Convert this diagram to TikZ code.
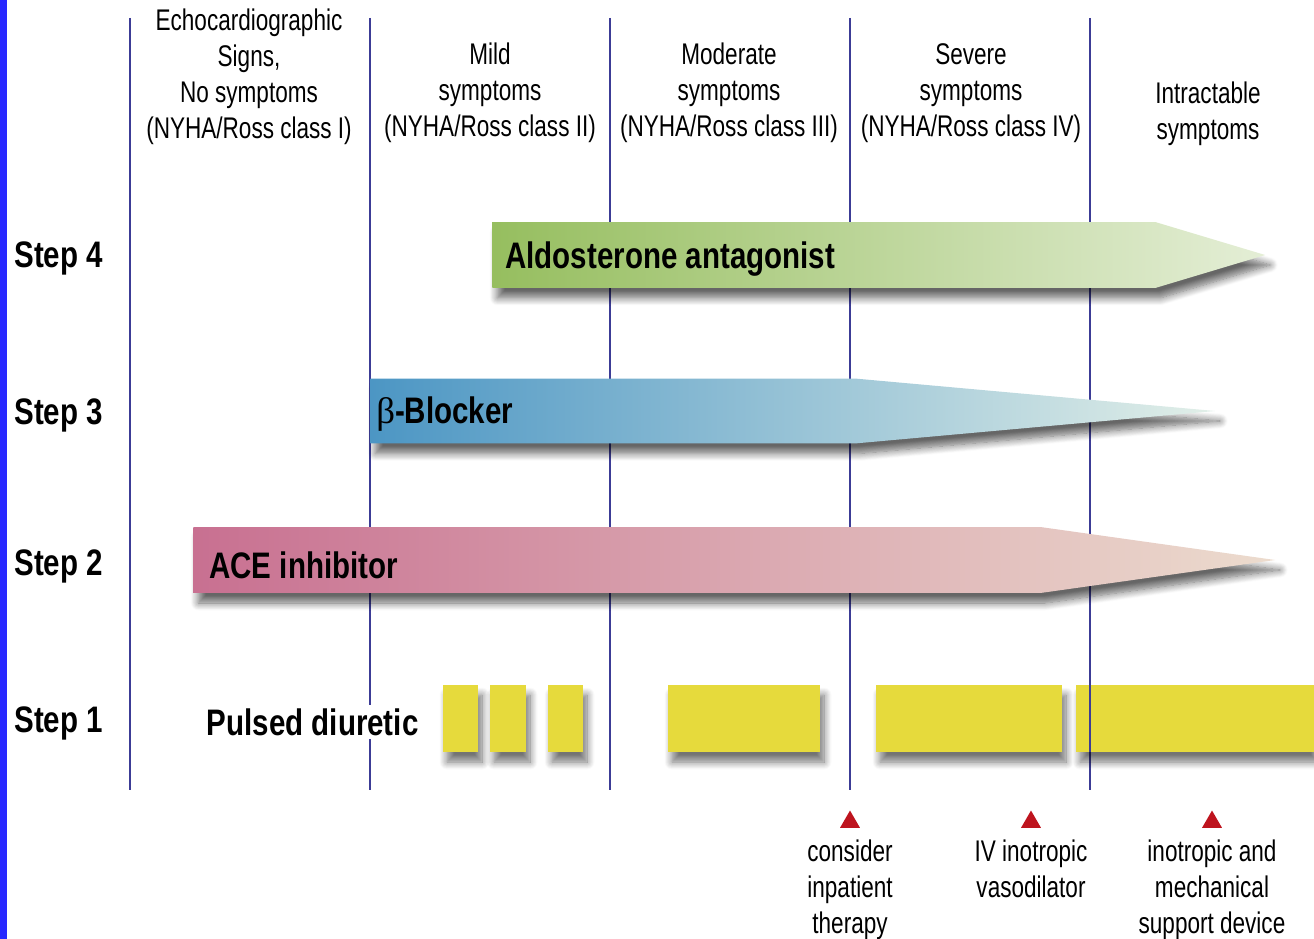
\documentclass[tikz,border=0pt]{standalone}
\usepackage{fontspec}
\setmainfont{Liberation Sans}[FakeStretch=0.8]
\newfontfamily\narrowsans{Liberation Sans}[FakeStretch=0.755]
\newfontfamily\betaserif{Liberation Serif}
\usepackage{tikz}
\usetikzlibrary{positioning,shapes.arrows,shapes.geometric,shadows.blur}
\definecolor{gridnavy}{RGB}{60,60,150}
\definecolor{edgeblue}{RGB}{40,40,255}
\definecolor{aldostart}{RGB}{150,190,95}
\definecolor{aldoend}{RGB}{228,238,214}
\definecolor{betastart}{RGB}{76,150,196}
\definecolor{betaend}{RGB}{226,239,232}
\definecolor{acestart}{RGB}{200,112,145}
\definecolor{aceend}{RGB}{236,220,206}
\definecolor{diuryellow}{RGB}{230,218,60}
\definecolor{alertred}{RGB}{190,20,30}
\tikzset{
  divider/.style ={draw=gridnavy, line width=1.6pt},
  classlbl/.style={align=center, font=\narrowsans\fontsize{17}{20.5}\selectfont, inner sep=0pt},
  steplbl/.style ={font=\fontsize{21}{24}\selectfont\bfseries, inner sep=0pt, anchor=west},
  druglbl/.style ={font=\fontsize{21}{24}\selectfont\bfseries, inner sep=0pt, anchor=west},
  drug/.style    ={single arrow, single arrow head extend=0pt, minimum width=1.32cm,
                   inner sep=0pt, anchor=tail,
                   blur shadow={shadow xshift=0.1cm, shadow yshift=-0.2cm,
                                shadow blur steps=10, shadow blur radius=0.15cm, shadow opacity=60}},
  pulse/.style   ={fill=diuryellow,
                   blur shadow={shadow xshift=0.08cm, shadow yshift=-0.2cm,
                                shadow blur steps=10, shadow blur radius=0.15cm, shadow opacity=55}},
  flag/.style    ={regular polygon, regular polygon sides=3, fill=alertred,
                   minimum size=0.46cm, inner sep=0pt},
}
\begin{document}
\begin{tikzpicture}[x=0.02cm, y=-0.02cm]
\useasboundingbox (0,0) rectangle (1314,939);
\fill[edgeblue] (0,0) rectangle (7,939);

% class dividers
\foreach \x in {130,370,610,850,1090} \draw[divider] (\x,18) -- (\x,790);

% column headers
\node[classlbl] (cls1) at (249,77) {Echocardiographic\\Signs,\\No symptoms\\(NYHA/Ross class I)};
\node[classlbl] (cls2) at (490,93) {Mild\\symptoms\\(NYHA/Ross class II)};
\node[classlbl] (cls3) at (729,93) {Moderate\\symptoms\\(NYHA/Ross class III)};
\node[classlbl] (cls4) at (971,93) {Severe\\symptoms\\(NYHA/Ross class IV)};
\node[classlbl] (cls5) at (1208,114) {Intractable\\symptoms};

% steps
\node[steplbl] (st4) at (14,258) {Step 4};
\node[steplbl] (st3) at (14,415) {Step 3};
\node[steplbl] (st2) at (14,566) {Step 2};
\node[steplbl] (st1) at (14,723) {Step 1};

% drug arrows
\node[drug, minimum height=15.46cm, single arrow tip angle=33.4,
      left color=aldostart, right color=aldoend] (ald) at (492,255) {};
\node[druglbl] (aldt) at ([xshift=0.26cm, yshift=-0.09cm]ald.tail) {Aldosterone antagonist};
\node[drug, minimum height=16.9cm, minimum width=1.3cm, single arrow tip angle=10.3,
      left color=betastart, right color=betaend] (bet) at (370,411) {};
\node[druglbl] (bett) at ([xshift=0.12cm, yshift=-0.06cm]bet.tail) {{\betaserif\mdseries β}-Blocker};
\node[drug, minimum height=21.64cm, single arrow tip angle=16,
      left color=acestart, right color=aceend] (ace) at (193,560) {};
\node[druglbl] (acet) at ([xshift=0.32cm, yshift=-0.1cm]ace.tail) {ACE inhibitor};

% pulsed diuretic
\foreach \a/\b in {443/478,490/526,548/583,668/820,876/1062,1076/1314}
  \fill[pulse] (\a,685) rectangle (\b,752);
\draw[divider] (1090,685) -- (1090,752);
\node[druglbl, fill=white, inner sep=2pt] (diu) at (203,722) {Pulsed diuretic};

% escalation markers
\node[flag] (f1) at (850,822) {};
\node[flag] (f2) at (1031,822) {};
\node[flag] (f3) at (1212,822) {};
\node[classlbl, below=2.2mm of f1] (a1) {consider\\inpatient\\therapy};
\node[classlbl, below=2.2mm of f2] (a2) {IV inotropic\\vasodilator};
\node[classlbl, below=2.2mm of f3] (a3) {inotropic and\\mechanical\\support device};
\end{tikzpicture}
\end{document}
